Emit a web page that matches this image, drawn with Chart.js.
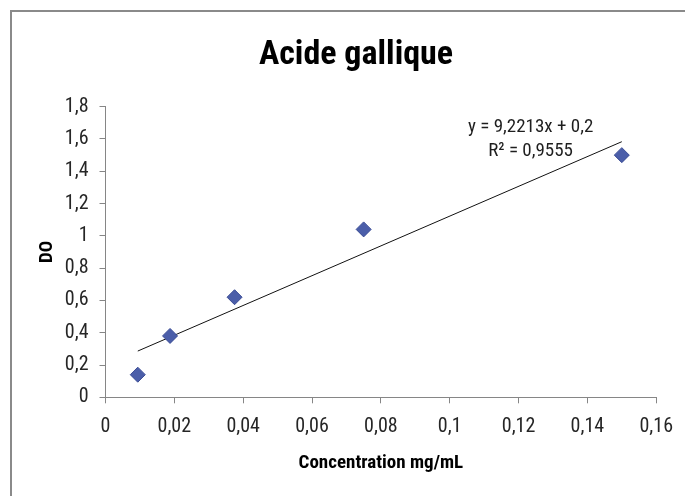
<!DOCTYPE html>
<html>
<head>
<meta charset="utf-8">
<script src="https://cdn.jsdelivr.net/npm/chart.js@4/dist/chart.umd.min.js"></script>
<style>
  html, body { margin: 0; padding: 0; background: #ffffff; }
  #wrap { position: relative; width: 685px; height: 496px; overflow: hidden; }
  #frame { position: absolute; left: 10px; top: 10px; width: 700px; height: 500px;
           border-top: 2px solid #8a8a8a; border-left: 2px solid #8a8a8a; }
  canvas { position: absolute; left: 0; top: 0; }
</style>
</head>
<body>
<div id="wrap">
  <div id="frame"></div>
  <canvas id="c" width="685" height="496"></canvas>
</div>
<script>
// Gallic acid calibration: absorbance (DO) against concentration
const concentrations = [0.009375, 0.01875, 0.0375, 0.075, 0.15];
const absorbances = [0.14, 0.38, 0.62, 1.04, 1.50];

// Linear regression reported on the chart
const slope = 9.2213;
const intercept = 0.2;
const rSquared = 0.9555;

const xTickLabels = ['0', '0,02', '0,04', '0,06', '0,08', '0,1', '0,12', '0,14', '0,16'];
const yTickLabels = ['0', '0,2', '0,4', '0,6', '0,8', '1', '1,2', '1,4', '1,6', '1,8'];

const titleText = 'Acide gallique';
const xTitle = 'Concentration mg/mL';
const yTitle = 'DO';

const FONT = "'Liberation Sans Narrow', 'Roboto Condensed', 'Roboto', sans-serif";

const fmt = v => String(v).replace('.', ',');
const equationLines = ['y = ' + fmt(slope) + 'x + ' + fmt(intercept), 'R\u00B2 = ' + fmt(rSquared)];

const xMin = Math.min(...concentrations);
const xMax = Math.max(...concentrations);
const trendPoints = [xMin, xMax].map(x => ({ x: x, y: slope * x + intercept }));

// Regression equation written near the upper end of the trend line
const equationLabel = {
  id: 'equationLabel',
  afterDatasetsDraw(chart) {
    const { ctx, scales } = chart;
    const cx = scales.x.getPixelForValue(0.1235);
    const y1 = scales.y.getPixelForValue(1.675);
    const y2 = scales.y.getPixelForValue(1.525);
    ctx.save();
    ctx.font = "19px " + FONT;
    ctx.fillStyle = '#1e1e1e';
    ctx.textAlign = 'center';
    ctx.textBaseline = 'middle';
    ctx.fillText(equationLines[0], cx, y1);
    ctx.fillText(equationLines[1], cx, y2);
    ctx.restore();
  }
};

new Chart(document.getElementById('c'), {
  type: 'scatter',
  data: {
    datasets: [
      {
        label: 'DO',
        data: concentrations.map((x, i) => ({ x: x, y: absorbances[i] })),
        pointStyle: 'rectRot',
        pointRadius: 7.5,
        pointHoverRadius: 7.5,
        backgroundColor: '#4B5EA9',
        borderColor: '#3A4C95',
        borderWidth: 1,
        order: 1
      },
      {
        label: 'Linéaire',
        data: trendPoints,
        showLine: true,
        pointRadius: 0,
        pointHoverRadius: 0,
        borderColor: '#111111',
        borderWidth: 1,
        order: 2
      }
    ]
  },
  options: {
    responsive: false,
    animation: false,
    events: [],
    layout: { padding: { left: 31, right: 4, top: 0, bottom: 0 } },
    plugins: {
      legend: { display: false },
      tooltip: { enabled: false },
      title: {
        display: true,
        text: titleText,
        color: '#000000',
        font: { family: FONT, size: 34, weight: 'bold', lineHeight: 1.2 },
        padding: { top: 34.6, bottom: 31.3 }
      }
    },
    scales: {
      x: {
        type: 'linear',
        min: 0,
        max: 0.16,
        afterFit(scale) { scale.height = 98.7; },
        ticks: {
          stepSize: 0.02,
          padding: 12,
          color: '#262626',
          font: { family: FONT, size: 20 },
          maxRotation: 0,
          callback: (v, i) => xTickLabels[i]
        },
        grid: { drawOnChartArea: false, drawTicks: true, tickLength: 6, color: '#868686' },
        border: { display: true, color: '#868686', width: 1 },
        title: {
          display: true,
          text: xTitle,
          color: '#000000',
          font: { family: FONT, size: 19, weight: 'bold', lineHeight: 1.2 },
          padding: { top: 0, bottom: 21.6 }
        }
      },
      y: {
        type: 'linear',
        min: 0,
        max: 1.8,
        afterFit(scale) { scale.width = 74.5; },
        ticks: {
          stepSize: 0.2,
          padding: 11,
          color: '#262626',
          font: { family: FONT, size: 20 },
          callback: (v, i) => yTickLabels[i]
        },
        grid: { drawOnChartArea: false, drawTicks: true, tickLength: 6, color: '#868686' },
        border: { display: true, color: '#868686', width: 1 },
        title: {
          display: true,
          text: yTitle,
          color: '#000000',
          font: { family: FONT, size: 19, weight: 'bold', lineHeight: 1.2 },
          padding: { top: 4.6, bottom: 0 }
        }
      }
    }
  },
  plugins: [equationLabel]
});
</script>
</body>
</html>
